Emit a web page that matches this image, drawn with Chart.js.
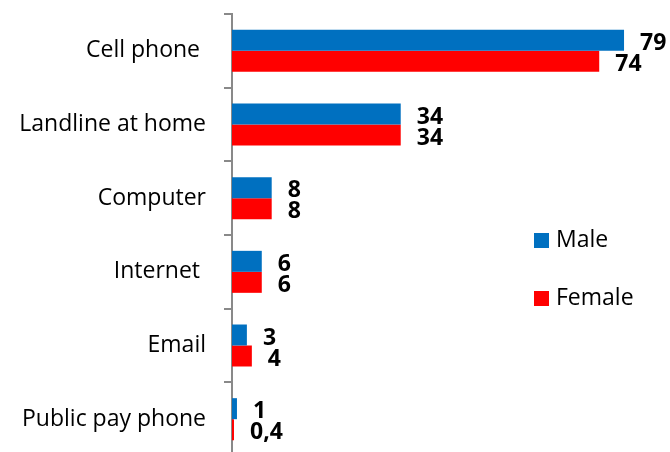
<!DOCTYPE html>
<html>
<head>
<meta charset="utf-8">
<script src="https://cdn.jsdelivr.net/npm/chart.js@4.4.1/dist/chart.umd.min.js"></script>
<style>
  html, body { margin: 0; padding: 0; background: #fff; overflow: hidden; }
  canvas { display: block; }
</style>
</head>
<body>
<canvas id="phoneChart" width="670" height="460"></canvas>
<script>
// categories, top to bottom
const devices = [
  "Cell phone ",
  "Landline at home",
  "Computer",
  "Internet ",
  "Email",
  "Public pay phone",
];

// percentages per group
const maleValues = [79, 34, 8, 6, 3, 1];
const femaleValues = [74, 34, 8, 6, 4, 0.4];

const seriesNames = ["Male", "Female"];
const seriesColors = ["#0070C0", "#FF0000"];

const FONT = "'Open Sans', Lato, sans-serif";
const AXIS_GRAY = "#898989";

/**
 * Writes each bar's value just past its end, decimals with a comma
 */
const valueLabels = {
  id: "valueLabels",
  afterDatasetsDraw(chart) {
    const ctx = chart.ctx;
    ctx.save();
    ctx.font = "bold 23px " + FONT;
    ctx.fillStyle = "#000";
    ctx.textAlign = "left";
    ctx.textBaseline = "middle";
    chart.data.datasets.forEach((dataset, i) => {
      const meta = chart.getDatasetMeta(i);
      meta.data.forEach((bar, j) => {
        const text = String(dataset.data[j]).replace(".", ",");
        ctx.fillText(text, bar.x + 16, bar.y + 3);
      });
    });
    ctx.restore();
  },
};

/**
 * Small legend sitting inside the plot, on the right
 */
const sideLegend = {
  id: "sideLegend",
  afterDraw(chart, args, opts) {
    const ctx = chart.ctx;
    ctx.save();
    ctx.font = "23px " + FONT;
    ctx.textAlign = "left";
    ctx.textBaseline = "middle";
    chart.data.datasets.forEach((dataset, i) => {
      const y = opts.top + i * opts.gap;
      ctx.fillStyle = dataset.backgroundColor;
      ctx.fillRect(opts.left, y - 7.5, 15, 15);
      ctx.fillStyle = "#000";
      ctx.fillText(dataset.label, opts.left + 22, y);
    });
    ctx.restore();
  },
};

const renderChart = () => {
  const canvas = document.getElementById("phoneChart");

  new Chart(canvas, {
    type: "bar",
    data: {
      labels: devices,
      datasets: [
        {
          label: seriesNames[0],
          data: maleValues,
          backgroundColor: seriesColors[0],
        },
        {
          label: seriesNames[1],
          data: femaleValues,
          backgroundColor: seriesColors[1],
        },
      ],
    },
    options: {
      indexAxis: "y",
      responsive: false,
      animation: false,
      categoryPercentage: 0.57,
      barPercentage: 1,
      layout: {
        padding: { left: 0, top: 14, right: 41, bottom: 4 },
      },
      scales: {
        x: {
          display: false,
          min: 0,
          max: 80,
        },
        y: {
          afterFit(scale) {
            // fixed gutter for the names, no extra room above/below
            scale.width = 232;
            scale.paddingTop = 0;
            scale.paddingBottom = 0;
          },
          grid: {
            offset: true,
            drawOnChartArea: false,
            drawTicks: true,
            tickLength: 8,
            color: AXIS_GRAY,
            lineWidth: 2,
          },
          border: {
            color: AXIS_GRAY,
            width: 2,
          },
          ticks: {
            padding: 18,
            color: "#000",
            font: { family: FONT, size: 23 },
          },
        },
      },
      plugins: {
        legend: { display: false },
        tooltip: { enabled: false },
        sideLegend: { left: 534, top: 240.5, gap: 58 },
      },
    },
    plugins: [valueLabels, sideLegend],
  });
};

window.addEventListener("load", renderChart);
</script>
</body>
</html>
